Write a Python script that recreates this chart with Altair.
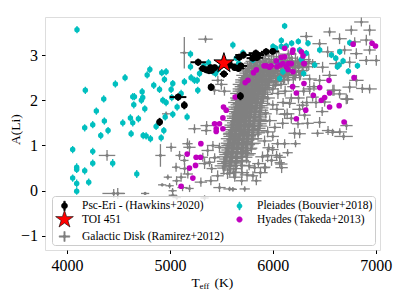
import altair as alt
import pandas as pd

# ---------------- data ----------------
series_order = ["Psc-Eri - (Hawkins+2020)", "TOI 451", "Galactic Disk (Ramirez+2012)",
                "Pleiades (Bouvier+2018)", "Hyades (Takeda+2013)"]

x_ticks = [4000, 5000, 6000, 7000]
y_ticks = [-1, 0, 1, 2, 3]

# Galactic disk (Ramirez+2012): scattered stars and the dense band
gal_teff = [
    5140, 5346, 5190, 4908, 4389, 4454, 4493, 4759, 4925, 4980,
    5028, 5067, 5012, 5060, 5239, 5353, 5418, 5320, 5385, 5141,
    5109, 5174, 5301, 5398, 5580, 5612, 5482, 5840, 5807, 5927,
    6083, 6067, 5357, 5171, 5094, 5143, 5065, 5123, 5191, 5337,
    5697, 5464, 5406, 5337, 5435, 5367, 5482, 5580, 5950, 5921,
    5988, 5824, 5727, 4997, 5026, 4963, 5466, 5530, 5433, 5500,
    6688, 6581, 6455, 6435, 6338, 6309, 6221, 6212, 6115, 6115,
    6047, 6144, 5998, 6037, 6067, 6086, 6290, 6164, 6096, 6861,
    6941, 6763, 6552, 6649, 6796, 6909, 6455, 6533, 6698, 6812,
    6941, 7006, 6909, 6747, 6618, 6484, 6387, 6290, 6552, 6455,
    6358, 6261, 6164, 6747, 6649, 6714, 6941, 6584, 6387, 6358,
    6326, 6870, 6813, 6725, 6595, 6504, 6716, 6537, 6651, 6261,
    6245, 6250, 6300, 6420, 6480, 6260, 6200, 6330, 6400,
    5850, 5905, 5960, 6010, 6060, 6120, 6180, 6240, 6300, 5990, 6150,
    5790, 5835, 5880, 5925, 5975, 6030, 6085, 6140, 6205, 6265, 6330,
    5765, 5810, 5850, 5895, 5945, 5995, 6045, 6100, 6160, 6225, 6290,
    5745, 5785, 5825, 5865, 5910, 5955, 6010, 6070, 6130, 6200, 6270,
    5725, 5765, 5800, 5840, 5880, 5925, 5975, 6035, 6105,
    5705, 5745, 5780, 5820, 5860, 5900, 5950, 6010,
    5690, 5725, 5760, 5800, 5840, 5880, 5930,
    5680, 5715, 5750, 5785, 5825, 5865, 5915,
    5670, 5705, 5740, 5775, 5810, 5855, 5900,
    5660, 5695, 5730, 5765, 5800, 5845, 5890,
    5650, 5685, 5720, 5755, 5790, 5835, 5880,
    5645, 5680, 5715, 5750, 5785, 5830, 5875,
    5635, 5670, 5705, 5740, 5780, 5825, 5870,
    5625, 5660, 5700, 5735, 5775, 5820, 5880,
    5615, 5650, 5690, 5730, 5770, 5815, 5870,
    5605, 5645, 5685, 5725, 5765, 5810, 5860,
    5600, 5640, 5680, 5720, 5760, 5805, 5855,
    5590, 5630, 5675, 5715, 5755, 5800,
    5580, 5625, 5665, 5710, 5750, 5795,
    5570, 5615, 5660, 5705, 5745, 5790,
    5560, 5605, 5650, 5700, 5740,
    5550, 5600, 5650, 5700, 5750,
    5540, 5590, 5645, 5700,
    5530, 5585, 5640, 5695,
    5520, 5580, 5640,
    5560, 5620,
]
gal_ali = [
    3.05, 3.35, 0.96, 0.78, 0.78, -0.06, -0.06, -0.06, 0.13, 0.30,
    -0.10, -0.15, 0.96, 0.52, 1.37, 1.33, 1.00, 0.74, 0.63, 0.67,
    0.30, 0.37, 0.19, 0.22, 0.04, 0.03, 0.07, 0.22, 0.33, 0.52,
    0.59, 0.74, 1.44, 1.04, 0.78, 0.49, 0.22, 0.07, 0.05, -0.16,
    0.22, 0.33, 0.49, 0.60, 0.73, 0.89, 0.96, 1.27, 0.78, 0.51,
    0.67, 0.51, 0.04, 0.11, 0.00, 1.70, 2.44, 2.20, 2.22, 2.35,
    1.20, 1.29, 1.51, 1.27, 1.49, 1.67, 1.04, 1.27, 1.04, 1.69,
    1.04, 0.84, 0.91, 0.78, 0.62, 0.51, 1.89, 1.93, 1.49, 3.73,
    3.55, 3.55, 3.51, 3.36, 3.29, 3.33, 3.25, 3.07, 3.11, 3.03,
    3.11, 2.88, 2.88, 2.84, 2.81, 2.73, 2.81, 2.73, 2.55, 2.44,
    2.47, 2.55, 2.66, 2.29, 2.14, 2.03, 2.25, 2.22, 2.07, 2.25,
    3.41, 2.26, 2.44, 2.02, 2.22, 1.96, 1.44, 1.33, 1.30, 1.26,
    1.48, 2.05, 2.20, 1.95, 1.75, 1.80, 2.30, 1.95, 2.30,
    2.95, 2.92, 2.98, 2.90, 2.96, 2.88, 2.93, 2.86, 2.90, 3.05, 3.02,
    2.82, 2.78, 2.84, 2.80, 2.76, 2.83, 2.79, 2.81, 2.77, 2.80, 2.74,
    2.70, 2.66, 2.72, 2.68, 2.71, 2.66, 2.70, 2.64, 2.68, 2.62, 2.66,
    2.60, 2.56, 2.62, 2.58, 2.60, 2.55, 2.59, 2.53, 2.57, 2.50, 2.55,
    2.50, 2.46, 2.51, 2.47, 2.49, 2.44, 2.48, 2.42, 2.45,
    2.40, 2.37, 2.41, 2.36, 2.39, 2.34, 2.38, 2.33,
    2.30, 2.27, 2.31, 2.26, 2.29, 2.24, 2.28,
    2.20, 2.17, 2.21, 2.16, 2.19, 2.14, 2.18,
    2.10, 2.07, 2.11, 2.06, 2.09, 2.04, 2.08,
    2.00, 1.97, 2.01, 1.96, 1.99, 1.94, 1.98,
    1.90, 1.87, 1.91, 1.86, 1.89, 1.84, 1.88,
    1.80, 1.77, 1.81, 1.76, 1.79, 1.74, 1.78,
    1.70, 1.67, 1.71, 1.66, 1.69, 1.64, 1.68,
    1.60, 1.57, 1.61, 1.56, 1.59, 1.54, 1.58,
    1.50, 1.47, 1.51, 1.46, 1.49, 1.44, 1.48,
    1.40, 1.37, 1.41, 1.36, 1.39, 1.34, 1.38,
    1.30, 1.27, 1.31, 1.26, 1.29, 1.24, 1.28,
    1.20, 1.17, 1.21, 1.16, 1.19, 1.14,
    1.10, 1.07, 1.11, 1.06, 1.09, 1.04,
    1.00, 0.97, 1.01, 0.96, 0.99, 0.94,
    0.90, 0.87, 0.91, 0.86, 0.89,
    0.80, 0.77, 0.81, 0.76, 0.79,
    0.70, 0.66, 0.71, 0.67,
    0.60, 0.57, 0.61, 0.56,
    0.50, 0.46, 0.49,
    0.38, 0.41,
]
gal_teff_err = [
    40, 70, 60, 50, 80, 110, 60, 40, 40, 40,
    40, 40, 50, 40, 60, 50, 60, 50, 50, 40,
    50, 50, 60, 60, 60, 40, 60, 50, 50, 50,
    60, 60, 60, 50, 40, 50, 40, 50, 40, 40,
    60, 60, 50, 60, 50, 60, 50, 60, 60, 50,
    60, 60, 50, 40, 40, 40, 60, 60, 50, 60,
    90, 70, 60, 60, 60, 60, 50, 60, 50, 60,
    60, 50, 60, 60, 50, 60, 60, 60, 60, 70,
    60, 60, 60, 70, 60, 60, 70, 60, 70, 60,
    60, 60, 70, 60, 70, 60, 70, 60, 70, 60,
    70, 60, 60, 70, 60, 60, 70, 60, 60, 70,
    60, 60, 70, 60, 70, 60, 60, 60, 70, 60,
    60, 60, 70, 60, 60, 70, 60, 60, 70,
    60, 70, 50, 80, 60, 70, 60, 50, 70, 60, 80,
    70, 60, 80, 60, 70, 50, 60, 70, 60, 80, 60,
    60, 70, 60, 80, 50, 70, 60, 70, 60, 70, 60,
    70, 60, 70, 60, 80, 60, 70, 60, 70, 60, 80,
    60, 70, 60, 80, 60, 70, 60, 70, 60,
    70, 60, 70, 60, 80, 60, 70, 60,
    60, 70, 60, 70, 60, 80, 60,
    70, 60, 80, 60, 70, 60, 70,
    60, 70, 60, 70, 60, 70, 60,
    70, 60, 70, 80, 60, 70, 60,
    60, 70, 60, 70, 80, 60, 70,
    70, 60, 70, 60, 70, 60, 80,
    60, 70, 80, 60, 70, 60, 70,
    70, 60, 70, 60, 80, 70, 60,
    60, 70, 60, 70, 60, 80, 70,
    70, 60, 70, 60, 70, 60, 70,
    60, 70, 80, 60, 70, 60, 70,
    70, 60, 70, 60, 80, 60,
    60, 70, 60, 70, 60, 70,
    70, 60, 80, 60, 70, 60,
    60, 70, 60, 70, 60,
    70, 60, 70, 60, 70,
    60, 70, 60, 70,
    70, 60, 70, 60,
    60, 70, 60,
    70, 60,
]
gal_ali_err = [
    0.35, 0.08, 0.15, 0.25, 0.12, 0.10, 0.12, 0.03, 0.03, 0.06,
    0.05, 0.05, 0.10, 0.10, 0.10, 0.10, 0.10, 0.10, 0.10, 0.10,
    0.10, 0.10, 0.10, 0.10, 0.05, 0.05, 0.10, 0.10, 0.10, 0.10,
    0.10, 0.10, 0.10, 0.12, 0.10, 0.12, 0.10, 0.08, 0.08, 0.06,
    0.10, 0.12, 0.10, 0.12, 0.10, 0.12, 0.10, 0.10, 0.15, 0.10,
    0.12, 0.10, 0.06, 0.06, 0.06, 0.05, 0.10, 0.10, 0.10, 0.12,
    0.08, 0.08, 0.12, 0.08, 0.12, 0.10, 0.08, 0.12, 0.10, 0.10,
    0.10, 0.08, 0.10, 0.10, 0.10, 0.12, 0.10, 0.10, 0.12, 0.10,
    0.12, 0.10, 0.10, 0.12, 0.10, 0.12, 0.10, 0.12, 0.10, 0.12,
    0.10, 0.12, 0.10, 0.12, 0.10, 0.12, 0.10, 0.12, 0.10, 0.12,
    0.10, 0.12, 0.10, 0.12, 0.10, 0.12, 0.10, 0.12, 0.10, 0.12,
    0.10, 0.10, 0.12, 0.10, 0.12, 0.10, 0.10, 0.10, 0.08, 0.10,
    0.10, 0.12, 0.10, 0.12, 0.10, 0.12, 0.10, 0.12, 0.10,
    0.10, 0.12, 0.08, 0.10, 0.12, 0.10, 0.09, 0.11, 0.10, 0.12, 0.10,
    0.12, 0.10, 0.11, 0.09, 0.12, 0.10, 0.11, 0.10, 0.12, 0.10, 0.11,
    0.10, 0.12, 0.10, 0.11, 0.12, 0.09, 0.10, 0.12, 0.10, 0.11, 0.10,
    0.11, 0.10, 0.12, 0.10, 0.11, 0.12, 0.10, 0.11, 0.10, 0.12, 0.10,
    0.12, 0.10, 0.11, 0.10, 0.12, 0.11, 0.10, 0.12, 0.10,
    0.11, 0.12, 0.10, 0.11, 0.10, 0.12, 0.11, 0.10,
    0.12, 0.10, 0.11, 0.12, 0.10, 0.11, 0.12,
    0.10, 0.12, 0.11, 0.10, 0.12, 0.11, 0.10,
    0.12, 0.11, 0.10, 0.12, 0.11, 0.10, 0.12,
    0.11, 0.12, 0.10, 0.11, 0.12, 0.10, 0.11,
    0.12, 0.10, 0.12, 0.11, 0.10, 0.12, 0.11,
    0.10, 0.12, 0.11, 0.12, 0.10, 0.11, 0.12,
    0.12, 0.11, 0.10, 0.12, 0.11, 0.12, 0.10,
    0.11, 0.12, 0.10, 0.11, 0.12, 0.10, 0.11,
    0.12, 0.10, 0.12, 0.11, 0.10, 0.12, 0.11,
    0.11, 0.12, 0.10, 0.12, 0.11, 0.10, 0.12,
    0.12, 0.11, 0.12, 0.10, 0.12, 0.11, 0.10,
    0.11, 0.12, 0.10, 0.12, 0.11, 0.12,
    0.12, 0.10, 0.12, 0.11, 0.12, 0.10,
    0.12, 0.11, 0.12, 0.10, 0.12, 0.11,
    0.11, 0.12, 0.10, 0.12, 0.11,
    0.12, 0.11, 0.12, 0.10, 0.12,
    0.11, 0.12, 0.10, 0.12,
    0.12, 0.10, 0.12, 0.11,
    0.11, 0.12, 0.10,
    0.12, 0.11,
]

# more Galactic-disk stars filling the dense band and its right flank
band_teff = [
    5815, 5870, 5930, 5985, 6035, 6095, 6160, 6220, 6280, 6350,
    5775, 5820, 5870, 5915, 5965, 6020, 6075, 6130, 6190, 6250,
    5755, 5795, 5835, 5880, 5925, 5975, 6030, 6085, 6145, 6210,
    5735, 5775, 5815, 5855, 5895, 5940, 5990, 6050, 6115,
    5715, 5755, 5790, 5830, 5870, 5915, 5965, 6025,
    5700, 5735, 5770, 5810, 5850, 5895, 5945,
    5690, 5725, 5760, 5795, 5835, 5875, 5925,
    5675, 5710, 5745, 5780, 5820, 5860, 5910,
    5665, 5700, 5735, 5770, 5805, 5850, 5895,
    5655, 5690, 5725, 5760, 5795, 5840, 5885,
    5648, 5683, 5718, 5753, 5788, 5833, 5878,
    5640, 5675, 5710, 5745, 5782, 5828, 5872,
    5630, 5665, 5702, 5738, 5778, 5822, 5875,
    5620, 5655, 5695, 5732, 5772, 5818, 5875,
    5610, 5648, 5688, 5728, 5768, 5812, 5865,
    5602, 5642, 5682, 5722, 5762, 5808, 5858,
    5595, 5635, 5678, 5718, 5758, 5802,
    5585, 5628, 5670, 5712, 5752, 5798,
    5575, 5620, 5662, 5708, 5748, 5792,
    5565, 5610, 5655, 5702, 5742,
    5555, 5602, 5650, 5700, 5745,
    5545, 5595, 5648, 5702,
    5535, 5588, 5642, 5698,
    5525, 5582, 5640,
    5960, 6000, 6050, 6080, 6120, 6150, 5950, 6000, 6040, 6100,
    6140, 5930, 5970, 6020, 5950, 6000, 5920, 6180, 6220, 6050,
    6180, 5960, 5900, 5860, 5880, 5770, 5700, 5630, 5750,
]
band_ali = [
    2.86, 2.84, 2.87, 2.83, 2.85, 2.88, 2.84, 2.83, 2.86, 2.85,
    2.76, 2.74, 2.73, 2.77, 2.75, 2.74, 2.76, 2.73, 2.75, 2.72,
    2.65, 2.64, 2.66, 2.63, 2.65, 2.62, 2.64, 2.66, 2.61, 2.63,
    2.55, 2.53, 2.56, 2.54, 2.52, 2.56, 2.53, 2.51, 2.54,
    2.45, 2.43, 2.46, 2.44, 2.42, 2.45, 2.43, 2.41,
    2.35, 2.33, 2.36, 2.34, 2.32, 2.35, 2.33,
    2.25, 2.23, 2.26, 2.24, 2.22, 2.25, 2.23,
    2.15, 2.13, 2.16, 2.14, 2.12, 2.15, 2.13,
    2.05, 2.03, 2.06, 2.04, 2.02, 2.05, 2.03,
    1.95, 1.93, 1.96, 1.94, 1.92, 1.95, 1.93,
    1.85, 1.83, 1.86, 1.84, 1.82, 1.85, 1.83,
    1.75, 1.73, 1.76, 1.74, 1.72, 1.75, 1.73,
    1.65, 1.63, 1.66, 1.64, 1.62, 1.65, 1.63,
    1.55, 1.53, 1.56, 1.54, 1.52, 1.55, 1.53,
    1.45, 1.43, 1.46, 1.44, 1.42, 1.45, 1.43,
    1.35, 1.33, 1.36, 1.34, 1.32, 1.35, 1.33,
    1.25, 1.23, 1.26, 1.24, 1.22, 1.25,
    1.15, 1.13, 1.16, 1.14, 1.12, 1.15,
    1.05, 1.03, 1.06, 1.04, 1.02, 1.05,
    0.95, 0.93, 0.96, 0.94, 0.92,
    0.85, 0.83, 0.86, 0.84, 0.82,
    0.75, 0.73, 0.76, 0.74,
    0.65, 0.63, 0.66, 0.64,
    0.55, 0.53, 0.56,
    2.40, 2.25, 2.15, 2.35, 2.20, 2.45, 2.05, 1.90, 1.80, 1.95,
    1.70, 1.70, 1.55, 1.40, 1.30, 1.20, 1.10, 2.05, 2.55, 2.55,
    1.60, 0.95, 0.75, 0.60, 0.40, 0.55, 0.40, 0.30, 0.35,
]
band_teff_err = [
    80, 90, 70, 100, 80, 90, 70, 80, 90, 70,
    90, 80, 100, 70, 90, 80, 70, 90, 80, 100,
    80, 90, 70, 90, 100, 80, 90, 70, 80, 90,
    90, 80, 90, 70, 100, 80, 90, 80, 70,
    80, 90, 70, 90, 80, 100, 80, 90,
    90, 80, 100, 70, 90, 80, 90,
    80, 90, 80, 100, 70, 90, 80,
    90, 80, 90, 70, 100, 80, 90,
    80, 100, 80, 90, 70, 90, 80,
    90, 80, 90, 80, 100, 70, 90,
    80, 90, 70, 100, 80, 90, 80,
    90, 80, 100, 80, 90, 70, 90,
    80, 90, 80, 90, 100, 80, 70,
    90, 70, 90, 80, 90, 100, 80,
    80, 90, 100, 70, 80, 90, 80,
    90, 80, 90, 80, 100, 70, 90,
    80, 90, 80, 100, 80, 90,
    90, 80, 90, 80, 70, 100,
    80, 100, 80, 90, 80, 90,
    90, 80, 90, 70, 100,
    80, 90, 100, 80, 90,
    90, 80, 90, 100,
    80, 90, 80, 90,
    90, 80, 90,
    70, 60, 70, 60, 70, 60, 70, 60, 70, 60,
    70, 60, 70, 60, 70, 60, 70, 60, 70, 60,
    70, 60, 70, 60, 70, 60, 70, 60, 70,
]
band_ali_err = [
    0.18, 0.15, 0.22, 0.16, 0.20, 0.14, 0.18, 0.22, 0.15, 0.18,
    0.15, 0.20, 0.16, 0.22, 0.18, 0.15, 0.20, 0.16, 0.22, 0.18,
    0.20, 0.16, 0.22, 0.18, 0.15, 0.20, 0.17, 0.22, 0.16, 0.18,
    0.22, 0.18, 0.16, 0.20, 0.24, 0.18, 0.15, 0.20, 0.17,
    0.18, 0.22, 0.16, 0.24, 0.20, 0.18, 0.22, 0.16,
    0.20, 0.24, 0.18, 0.22, 0.16, 0.20, 0.18,
    0.24, 0.18, 0.22, 0.20, 0.25, 0.18, 0.20,
    0.20, 0.25, 0.18, 0.22, 0.20, 0.24, 0.18,
    0.22, 0.20, 0.25, 0.18, 0.22, 0.20, 0.24,
    0.25, 0.22, 0.20, 0.24, 0.18, 0.22, 0.20,
    0.20, 0.24, 0.22, 0.25, 0.20, 0.18, 0.22,
    0.24, 0.20, 0.25, 0.22, 0.20, 0.24, 0.18,
    0.22, 0.25, 0.20, 0.24, 0.22, 0.20, 0.25,
    0.20, 0.22, 0.25, 0.20, 0.24, 0.22, 0.20,
    0.25, 0.20, 0.22, 0.24, 0.25, 0.20, 0.22,
    0.22, 0.25, 0.20, 0.22, 0.24, 0.25, 0.20,
    0.24, 0.20, 0.25, 0.22, 0.20, 0.24,
    0.20, 0.24, 0.22, 0.25, 0.20, 0.22,
    0.25, 0.22, 0.20, 0.24, 0.22, 0.20,
    0.22, 0.25, 0.20, 0.22, 0.24,
    0.20, 0.22, 0.25, 0.20, 0.22,
    0.24, 0.20, 0.22, 0.25,
    0.22, 0.24, 0.20, 0.22,
    0.20, 0.22, 0.24,
    0.12, 0.10, 0.12, 0.10, 0.12, 0.10, 0.12, 0.10, 0.12, 0.10,
    0.12, 0.10, 0.12, 0.10, 0.12, 0.10, 0.12, 0.10, 0.12, 0.10,
    0.12, 0.10, 0.12, 0.10, 0.12, 0.10, 0.12, 0.10, 0.12,
]

# Pleiades (Bouvier+2018)
ple_teff = [
    4097, 4178, 4055, 4094, 4094, 4055, 4094, 4094, 4172, 4172,
    4211, 4250, 4250, 4250, 4285, 4328, 4357, 4363, 4399, 4444,
    4470, 4564, 4542, 4616, 4623, 4639, 4655, 4649, 4639, 4678,
    4694, 4723, 4730, 4736, 4740, 4756, 4769, 4779, 4805, 4811,
    4843, 4866, 4899, 4915, 4921, 4931, 4941, 4947, 4954, 4963,
    4963, 5012, 5018, 5028, 5028, 5070, 5109, 5141, 5167, 5200,
    5206, 5200, 5239, 5265, 5271, 5288, 5330, 5375, 5418, 5444,
    5470, 5612, 5645, 5668, 5710, 5807, 6002, 6028, 6041, 6083,
    6115, 6083, 6067, 6099, 6131, 6183, 6248, 6261, 6277, 6300,
    6326, 6342, 6407, 6456, 6570, 6612, 6651, 6645, 6683, 6735,
    6823, 6748, 6628,
]
ple_ali = [
    3.56, 2.22, 0.91, 0.52, 0.47, 0.28, 0.16, -0.01, 1.39, 0.44,
    0.19, 0.87, 0.61, 1.46, 1.76, 1.22, 2.03, 1.54, 1.33, 0.61,
    2.36, 2.50, 1.50, 1.61, 1.26, 2.08, 2.08, 1.90, 1.50, 0.37,
    1.59, 2.00, 2.19, 2.06, 1.22, 1.81, 1.21, 2.56, 2.68, 1.15,
    2.33, 1.42, 2.24, 1.17, 2.61, 2.00, 1.33, 2.46, 1.63, 2.63,
    1.95, 2.24, 2.06, 2.37, 1.69, 1.85, 2.15, 2.41, 1.63, 3.02,
    2.50, 2.74, 2.44, 2.44, 2.22, 2.59, 2.76, 2.83, 2.63, 2.59,
    2.68, 3.22, 2.93, 2.81, 3.05, 2.89, 3.19, 3.15, 2.85, 3.19,
    3.64, 3.32, 2.48, 2.63, 3.20, 3.26, 3.30, 3.11, 2.90, 2.59,
    3.04, 3.26, 2.78, 3.11, 3.00, 2.93, 3.07, 2.78, 2.87, 2.64,
    2.76, 3.27, 2.74,
]
ple_ali_err = [
    0.08, 0.08, 0.08, 0.09, 0.08, 0.08, 0.09, 0.08, 0.08, 0.08,
    0.08, 0.08, 0.08, 0.08, 0.08, 0.08, 0.08, 0.08, 0.08, 0.09,
    0.08, 0.08, 0.08, 0.08, 0.08, 0.08, 0.08, 0.08, 0.08, 0.09,
    0.08, 0.08, 0.08, 0.08, 0.08, 0.08, 0.08, 0.08, 0.08, 0.08,
    0.08, 0.08, 0.08, 0.08, 0.08, 0.08, 0.08, 0.08, 0.08, 0.08,
    0.08, 0.08, 0.08, 0.08, 0.08, 0.08, 0.08, 0.08, 0.08, 0.08,
    0.08, 0.08, 0.08, 0.08, 0.08, 0.08, 0.08, 0.08, 0.08, 0.08,
    0.08, 0.08, 0.07, 0.07, 0.07, 0.07, 0.07, 0.07, 0.07, 0.07,
    0.07, 0.07, 0.07, 0.07, 0.07, 0.07, 0.07, 0.07, 0.07, 0.07,
    0.07, 0.07, 0.07, 0.07, 0.07, 0.07, 0.07, 0.07, 0.07, 0.07,
    0.07, 0.07, 0.07,
]

# Hyades (Takeda+2013)
hya_teff = [
    6115, 6196, 6190, 6034, 6083, 6115, 6167, 6196, 6277, 6294,
    6306, 6131, 6148, 5937, 5915, 5985, 6041, 5840, 5813, 5758,
    5732, 5635, 5521, 5547, 5515, 5482, 5434, 5450, 5515, 5450,
    5301, 5168, 5255, 5297, 5249, 5190, 5223, 5109, 6229, 6303,
    6394, 6320, 6229, 6456, 6472, 6504, 6546, 6552, 6552, 6645,
    6693, 6790, 6781, 6965, 6998, 6193, 6151, 6074, 6098, 6180,
    6302, 5968,
]
hya_ali = [
    3.15, 3.11, 3.06, 2.87, 2.95, 2.96, 2.81, 2.63, 3.07, 2.98,
    2.81, 2.74, 2.68, 2.76, 2.76, 2.76, 2.74, 2.67, 2.61, 2.44,
    2.39, 2.07, 1.85, 1.78, 1.61, 1.48, 1.48, 1.37, 1.37, 1.31,
    1.04, 0.81, 0.74, 0.74, 0.56, 0.50, 0.28, 0.10, 2.16, 2.37,
    2.11, 1.78, 1.59, 2.28, 2.00, 2.06, 2.44, 2.16, 1.85, 1.88,
    1.52, 2.50, 3.24, 3.26, 3.20, 2.30, 2.81, 2.78, 2.81, 2.81,
    2.81, 2.73,
]

# Psc-Eri (Hawkins+2020)
psc_teff = [5275, 5320, 5355, 5380, 5405, 5395, 5435, 5525, 5400, 5580,
            5630, 5665, 5690, 5675, 5715, 5805, 5835, 5855, 5845, 5935,
            6000, 5685, 5080, 5140, 4900]
psc_ali = [2.84, 2.70, 2.67, 2.65, 2.66, 2.72, 2.72, 2.58, 2.29, 2.79,
           2.72, 2.70, 2.76, 2.95, 3.00, 2.93, 3.04, 3.00, 2.94, 3.07,
           3.08, 2.09, 2.07, 1.89, 1.52]
psc_teff_err = [75, 40, 40, 40, 40, 40, 50, 40, 30, 60,
                60, 60, 60, 50, 80, 60, 70, 60, 60, 50,
                60, 30, 80, 30, 30]
psc_ali_err = [0.08, 0.07, 0.07, 0.07, 0.07, 0.07, 0.07, 0.08, 0.08, 0.07,
               0.07, 0.07, 0.07, 0.08, 0.08, 0.07, 0.08, 0.07, 0.07, 0.08,
               0.07, 0.09, 0.08, 0.09, 0.09]

# TOI 451
toi_teff = [5525]
toi_ali = [2.82]

# ---------------- styling ----------------
GRAY, CYAN, MAG, BLACK, RED = "#808080", "#00BFBF", "#BF00BF", "#000000", "#FF0000"
SERIF = "Liberation Serif"


def circ(r):
    return f"M{-r},0A{r},{r} 0 1,1 {r},0A{r},{r} 0 1,1 {-r},0Z"


def rect(x0, y0, x1, y1):
    return f"M{x0},{y0}H{x1}V{y1}H{x0}Z"


star_path = ("M0,-1.33L0.297,-0.409L1.265,-0.411L0.481,0.156L0.782,1.076"
             "L0,0.506L-0.782,1.076L-0.481,0.156L-1.265,-0.411L-0.297,-0.409Z")
# order follows series_order
legend_shapes = [
    circ(0.43) + rect(-0.11, -0.66, 0.11, 0.66),
    star_path,
    rect(-0.76, -0.09, 0.76, 0.09) + rect(-0.09, -0.7, 0.09, 0.7) + circ(0.2),
    circ(0.36) + rect(-0.08, -0.57, 0.08, 0.57),
    circ(0.39),
]
legend_fill = [BLACK, RED, GRAY, CYAN, MAG]
legend_stroke = [BLACK, BLACK, GRAY, CYAN, MAG]


def with_errors(teff, ali, eteff=None, eali=None):
    m = min(len(teff), len(ali))
    df = pd.DataFrame({"T": teff[:m], "A": ali[:m]})
    if eteff is not None:
        e = pd.Series(eteff[:m]).reindex(range(m)).fillna(0)
        df["T0"] = df["T"] - e
        df["T1"] = df["T"] + e
    if eali is not None:
        e = pd.Series(eali[:m]).reindex(range(m)).fillna(0)
        df["A0"] = df["A"] - e
        df["A1"] = df["A"] + e
    return df


gal = pd.concat([with_errors(gal_teff, gal_ali, gal_teff_err, gal_ali_err),
                 with_errors(band_teff, band_ali, band_teff_err, band_ali_err)],
                ignore_index=True)
ple = with_errors(ple_teff, ple_ali, None, ple_ali_err)
hya = with_errors(hya_teff, hya_ali)
psc = with_errors(psc_teff, psc_ali, psc_teff_err, psc_ali_err)
toi = with_errors(toi_teff, toi_ali)

xs = alt.Scale(domain=[3786, 7042], nice=False, zero=False)
ys = alt.Scale(domain=[-1.31, 3.84], nice=False, zero=False)
xaxis = alt.Axis(values=x_ticks, title=None, grid=False, domain=False, format="d",
                 tickColor="black", tickSize=3.5, tickWidth=1,
                 labelFont=SERIF, labelFontSize=16, labelColor="black", labelPadding=4)
yaxis = alt.Axis(values=y_ticks, title=None, grid=False, domain=False, format="d",
                 tickColor="black", tickSize=3.5, tickWidth=1,
                 labelFont=SERIF, labelFontSize=16, labelColor="black", labelPadding=4)


def X(f="T"):
    return alt.X(f"{f}:Q", scale=xs, axis=xaxis)


def Y(f="A"):
    return alt.Y(f"{f}:Q", scale=ys, axis=yaxis)


gal_x = alt.Chart(gal).mark_rule(color=GRAY, strokeWidth=1.3, clip=True).encode(
    x=X("T0"), x2="T1", y=Y())
gal_y = alt.Chart(gal).mark_rule(color=GRAY, strokeWidth=1.3, clip=True).encode(
    x=X(), y=Y("A0"), y2="A1")
gal_p = alt.Chart(gal).mark_circle(color=GRAY, size=10, opacity=1, clip=True).encode(x=X(), y=Y())

ple_y = alt.Chart(ple).mark_rule(color=CYAN, strokeWidth=1.3, clip=True).encode(
    x=X(), y=Y("A0"), y2="A1")
ple_p = alt.Chart(ple).mark_circle(color=CYAN, size=30, opacity=1, clip=True).encode(x=X(), y=Y())

hya_p = alt.Chart(hya).mark_circle(color=MAG, size=32, opacity=1, clip=True).encode(x=X(), y=Y())

psc_x = alt.Chart(psc).mark_rule(color=BLACK, strokeWidth=2).encode(x=X("T0"), x2="T1", y=Y())
psc_y = alt.Chart(psc).mark_rule(color=BLACK, strokeWidth=2).encode(x=X(), y=Y("A0"), y2="A1")
psc_p = alt.Chart(psc).mark_circle(color=BLACK, size=44, opacity=1).encode(x=X(), y=Y())

toi_p = alt.Chart(toi).mark_point(shape=star_path, size=250, filled=True, fill=RED,
                                  stroke=BLACK, strokeWidth=1, opacity=1).encode(x=X(), y=Y())

legend_df = pd.DataFrame({"s": series_order})
legend_layer = alt.Chart(legend_df).mark_point(filled=True, opacity=1, strokeWidth=0.6).encode(
    fill=alt.Fill("s:N", scale=alt.Scale(domain=series_order, range=legend_fill),
                  legend=alt.Legend(title=None, orient="none", legendX=7, legendY=179,
                                    columns=2, columnPadding=5, rowPadding=-5,
                                    symbolSize=196, symbolStrokeWidth=0.6, symbolOffset=3,
                                    labelFont=SERIF, labelFontSize=11.5, labelColor="black",
                                    labelOffset=10, labelLimit=300, padding=2,
                                    fillColor="rgba(255,255,255,0.8)", strokeColor="#cccccc",
                                    cornerRadius=3)),
    stroke=alt.Stroke("s:N", scale=alt.Scale(domain=series_order, range=legend_stroke)),
    shape=alt.Shape("s:N", scale=alt.Scale(domain=series_order, range=legend_shapes)),
).transform_filter("false")

one = pd.DataFrame({"k": [0]})
t_main = alt.Chart(one).mark_text(text="T", font=SERIF, fontSize=13.5, align="left",
                                  baseline="alphabetic", color="black").encode(
    x=alt.value(146.5), y=alt.value(269.7))
t_sub = alt.Chart(one).mark_text(text="eff", font=SERIF, fontSize=9, align="left",
                                 baseline="alphabetic", color="black").encode(
    x=alt.value(154.5), y=alt.value(271.5))
t_unit = alt.Chart(one).mark_text(text="(K)", font=SERIF, fontSize=13.5, align="left",
                                  baseline="alphabetic", color="black").encode(
    x=alt.value(169.5), y=alt.value(269.7))
y_title = alt.Chart(one).mark_text(text="A(Li)", font=SERIF, fontSize=13.5, align="center",
                                   baseline="middle", angle=270, color="black").encode(
    x=alt.value(-29), y=alt.value(112.5))

chart = alt.layer(
    gal_x, gal_y, gal_p, ple_y, ple_p, hya_p, psc_x, psc_y, psc_p, toi_p,
    legend_layer, t_main, t_sub, t_unit, y_title,
).properties(
    width=335, height=233,
    autosize=alt.AutoSizeParams(type="none"),
    padding={"left": 37, "top": 9, "right": 19, "bottom": 47},
).configure_view(stroke="black", strokeWidth=2).configure(background="white")

chart.save("out.html", embed_options={"renderer": "svg", "actions": False})
